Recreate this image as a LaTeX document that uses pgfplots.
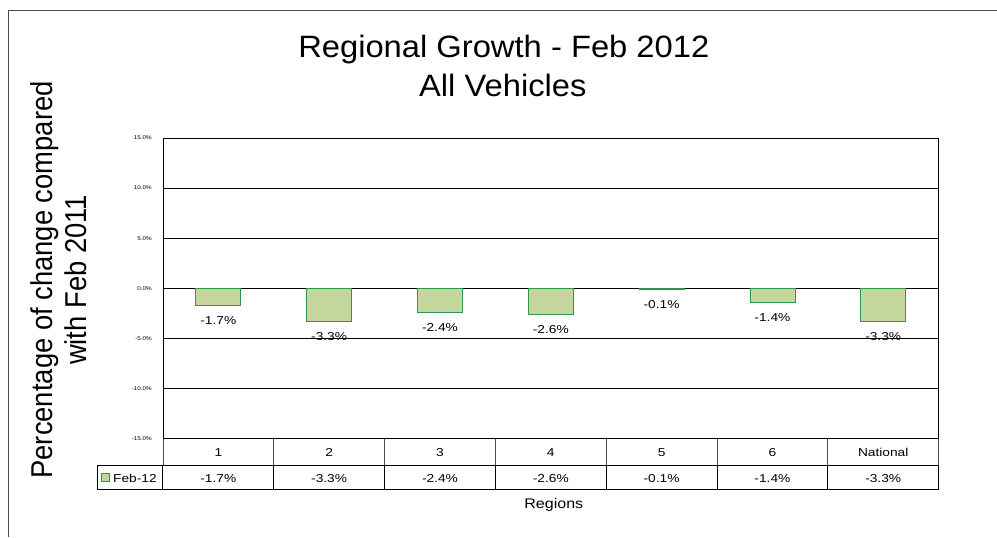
\documentclass[border=0pt]{standalone}
\usepackage{fontspec}
\setmainfont{Liberation Sans}
\usepackage{pgfplots}
\pgfplotsset{compat=1.18}
\definecolor{barfill}{RGB}{195,214,155}
\definecolor{baredge}{RGB}{46,150,84}
\newcommand{\sx}[2][1.2]{\scalebox{#1}[1]{#2}}
\begin{document}
\begin{tikzpicture}[x=1bp,y=1bp]
\path (0,0) rectangle (997,537);
\draw[gray!60!black, line width=0.8bp] (8,0) -- (8,527) -- (997,527);
\begin{axis}[
  at={(163bp,98bp)}, anchor=south west,
  width=776bp, height=301bp, scale only axis,
  xmin=-0.5, xmax=6.5, ymin=-15, ymax=15,
  ybar, bar width=45bp,
  xtick=\empty,
  ytick={-15,-10,...,15},
  ymajorgrids, grid style={black, line width=0.8bp},
  major tick length=0pt,
  axis line style={black, line width=0.8bp},
  /pgf/number format/assume math mode=true,
  yticklabel={\sx[1.15]{\pgfmathprintnumber[fixed,fixed zerofill,precision=1]{\tick}\%}},
  yticklabel style={font=\fontsize{5.5}{6}\selectfont, inner sep=0pt, xshift=-11bp},
  nodes near coords={\sx{\pgfmathprintnumber[fixed,fixed zerofill,precision=1]{\pgfplotspointmeta}\%}},
  nodes near coords align={center},
  every node near coord/.append style={font=\fontsize{11.5}{13}\selectfont, yshift=-15bp, inner sep=0pt, anchor=center},
  clip=false,
]
\addplot[fill=barfill, draw=baredge, line width=0.8bp] coordinates {(0,-1.7) (1,-3.3) (2,-2.4) (3,-2.6) (4,-0.1) (5,-1.4) (6,-3.3)};
\end{axis}
% data table
\foreach \k in {0,...,7} {
  \draw[gray!60!black, line width=0.8bp] ({163+\k*110.857},98) -- ({163+\k*110.857},71);
  \draw[black, line width=0.9bp] ({163+\k*110.857},71) -- ({163+\k*110.857},47);
}
\draw[black, line width=0.9bp] (97,71) -- (939,71);
\draw[black, line width=0.9bp] (97,71) -- (97,47) -- (939,47);
\foreach \k/\c/\v in {0/1/-1.7\%,1/2/-3.3\%,2/3/-2.4\%,3/4/-2.6\%,4/5/-0.1\%,5/6/-1.4\%,6/National/-3.3\%} {
  \node[inner sep=0pt, font=\fontsize{11.5}{13}\selectfont] at ({163+\k*110.857+55.43},84) {\sx{\c}};
  \node[inner sep=0pt, font=\fontsize{11.5}{13}\selectfont] at ({163+\k*110.857+55.43},58.5) {\sx{\v}};
}
\draw[fill=barfill, draw=baredge, line width=0.7bp] (101.5,55.5) rectangle (109.5,63.5);
\node[inner sep=0pt, anchor=west, font=\fontsize{11.5}{13}\selectfont] at (113,58.5) {\sx{Feb-12}};
% titles
\node[inner sep=0pt, anchor=base, font=\fontsize{31}{34}\selectfont] at (504,479) {\sx[1.06]{Regional Growth - Feb 2012}};
\node[inner sep=0pt, anchor=base, font=\fontsize{31}{34}\selectfont] at (503,440.5) {\sx[1.06]{All Vehicles}};
\node[inner sep=0pt, anchor=base, font=\fontsize{14}{16}\selectfont] at (554,28) {\sx[1.15]{Regions}};
\node[inner sep=0pt, anchor=base, rotate=90, font=\fontsize{27.5}{30}\selectfont] at (53,257) {\scalebox{1}[1.1]{Percentage of change compared}};
\node[inner sep=0pt, anchor=base, rotate=90, font=\fontsize{27.5}{30}\selectfont] at (87,257) {\scalebox{1}[1.1]{with Feb 2011}};
\end{tikzpicture}
\end{document}
